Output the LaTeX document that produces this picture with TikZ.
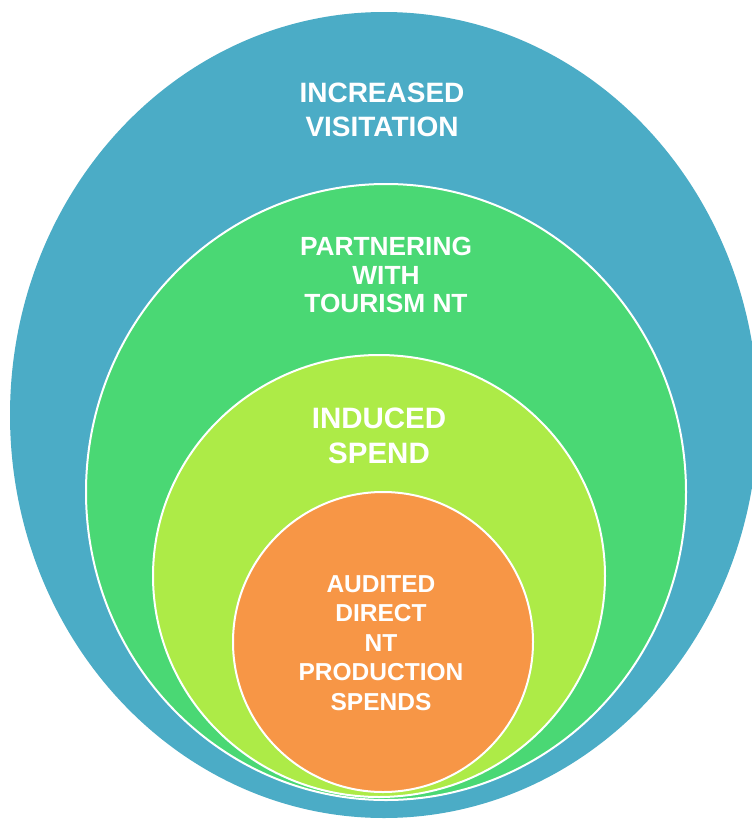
\documentclass[tikz,border=0pt]{standalone}
\usepackage{fontspec}
\setmainfont{Liberation Sans}
\definecolor{cblue}{HTML}{4BACC6}
\definecolor{cgreen}{HTML}{4AD874}
\definecolor{clime}{HTML}{ADEB47}
\definecolor{corange}{HTML}{F79646}
\begin{document}
\begin{tikzpicture}[x=1pt,y=-1pt,
  ring/.style={draw=white,line width=2pt},
  lbl/.style={text=white,align=center,inner sep=0pt,font=\bfseries}]
\useasboundingbox (0,0) rectangle (752,819);
\clip (0,0) rectangle (752,819);
\fill[white] (0,0) rectangle (752,819);
\fill[cblue] (384,415) ellipse [x radius=374, y radius=403];
\filldraw[ring,fill=cgreen] (386,492) ellipse [x radius=300, y radius=308];
\filldraw[ring,fill=clime] (379,576) ellipse [x radius=226, y radius=221];
\filldraw[ring,fill=corange] (383,642) ellipse [x radius=150, y radius=150];
\node[lbl,font=\bfseries\fontsize{28}{33.3}\selectfont] (visit) at (382,110) {INCREASED\\VISITATION};
\node[lbl,font=\bfseries\fontsize{26.3}{28.3}\selectfont] (partner) at (386,275) {PARTNERING\\WITH\\TOURISM NT};
\node[lbl,font=\bfseries\fontsize{29.5}{34.8}\selectfont] (induced) at (379,436) {INDUCED\\SPEND};
\node[lbl,font=\bfseries\fontsize{24.5}{29.6}\selectfont] (audited) at (381,643) {AUDITED\\DIRECT\\NT\\PRODUCTION\\SPENDS};
\end{tikzpicture}
\end{document}
